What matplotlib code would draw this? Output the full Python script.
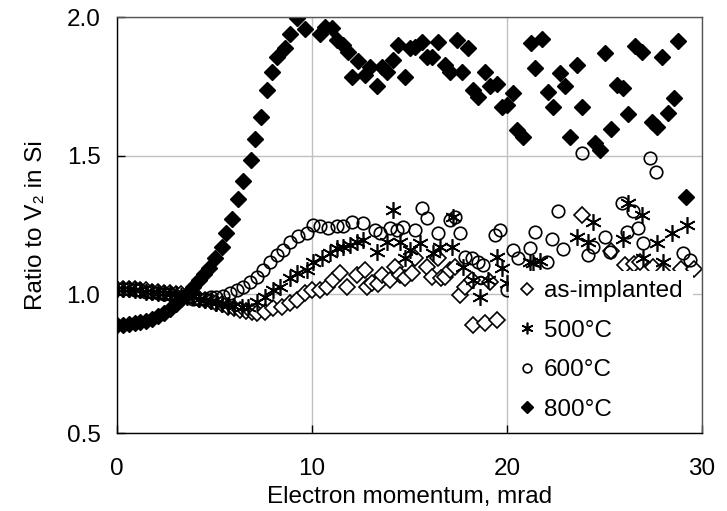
import matplotlib
matplotlib.use("Agg")
import matplotlib.pyplot as plt

plt.rcParams['font.family'] = ['Liberation Sans', 'DejaVu Sans']

x_label = "Electron momentum, mrad"
y_label = "Ratio to V\u2082 in Si"
series_names = ["as-implanted", "500\u00b0C", "600\u00b0C", "800\u00b0C"]
x_ticks = [0, 10, 20, 30]
y_ticks = [0.5, 1.0, 1.5, 2.0]

x_asimp = [0.0, 0.3, 0.6, 0.9, 1.2, 1.5, 1.8, 2.1, 2.4, 2.7, 3.0, 3.3, 3.6, 3.9, 4.2, 4.5, 4.8, 5.1, 5.4,
           5.7, 6.0, 6.3, 6.6, 6.9, 7.2, 7.6, 8.0, 8.45, 8.87, 9.21, 9.64, 9.98, 10.41, 10.75, 11.1, 11.44,
           11.78, 12.29, 12.72, 12.8, 13.06, 13.4, 13.57, 14.0, 14.25, 14.51, 14.77, 15.11, 15.28, 15.88,
           16.14, 16.48, 16.6, 16.82, 17.08, 17.33, 17.59, 17.85, 18.19, 18.27, 18.87, 19.13, 19.47, 21.09,
           23.83, 25.33, 26.05, 26.5, 26.82, 27.5, 28.0, 28.9, 29.6]
y_asimp = [1.02, 1.02, 1.02, 1.02, 1.015, 1.015, 1.01, 1.01, 1.005, 1.005, 1.0, 1.0, 0.995, 0.99, 0.985,
           0.98, 0.975, 0.97, 0.965, 0.955, 0.95, 0.945, 0.94, 0.935, 0.932, 0.938, 0.95, 0.956, 0.968, 0.98,
           1.004, 1.016, 1.016, 1.028, 1.052, 1.076, 1.028, 1.07, 1.088, 1.028, 1.04, 1.036, 1.07, 1.05, 1.10,
           1.07, 1.058, 1.076, 1.13, 1.10, 1.064, 1.13, 1.058, 1.064, 1.088, 1.10, 0.998, 1.028, 1.052, 0.89,
           0.896, 1.046, 0.908, 1.016, 1.287, 1.158, 1.106, 1.11, 1.118, 1.10, 1.08, 1.09, 1.09]

x_500 = [0.0, 0.3, 0.6, 0.9, 1.2, 1.5, 1.8, 2.1, 2.4, 2.7, 3.0, 3.3, 3.6, 3.9, 4.2, 4.5, 4.8, 5.1, 5.4,
         5.7, 6.0, 6.4, 6.73, 7.16, 7.59, 8.02, 8.36, 8.87, 9.21, 9.73, 10.07, 10.5, 10.92, 11.27, 11.6,
         11.95, 12.3, 12.63, 13.32, 13.83, 14.17, 14.5, 14.77, 15.03, 15.54, 16.22, 16.56, 17.16, 17.25,
         17.76, 18.27, 18.62, 19.04, 19.47, 19.73, 19.98, 21.18, 21.35, 21.7, 23.57, 24.17, 24.43, 25.96,
         26.22, 26.9, 27.0, 27.68, 28.0, 28.45, 29.21]
y_500 = [1.02, 1.02, 1.02, 1.015, 1.015, 1.01, 1.01, 1.005, 1.005, 1.0, 1.0, 0.995, 0.99, 0.99, 0.985,
         0.98, 0.975, 0.97, 0.965, 0.96, 0.958, 0.955, 0.956, 0.974, 0.992, 1.016, 1.028, 1.058, 1.076,
         1.088, 1.118, 1.13, 1.148, 1.166, 1.17, 1.178, 1.19, 1.196, 1.154, 1.19, 1.305, 1.19, 1.13, 1.16,
         1.184, 1.148, 1.172, 1.172, 1.28, 1.10, 1.052, 0.99, 1.052, 1.136, 1.094, 1.04, 1.118, 1.112, 1.12,
         1.208, 1.19, 1.262, 1.20, 1.33, 1.287, 1.13, 1.184, 1.118, 1.22, 1.25]

x_600 = [0.0, 0.3, 0.6, 0.9, 1.2, 1.5, 1.8, 2.1, 2.4, 2.7, 3.0, 3.3, 3.6, 3.9, 4.2, 4.5, 4.8, 5.1, 5.45,
         5.8, 6.14, 6.48, 6.82, 7.16, 7.5, 7.85, 8.19, 8.53, 8.87, 9.3, 9.73, 10.07, 10.4, 10.84, 11.27,
         11.6, 12.03, 12.63, 13.23, 13.49, 14.0, 14.34, 14.68, 15.28, 15.62, 15.88, 16.48, 17.08, 17.33,
         17.59, 17.85, 18.19, 18.53, 18.79, 19.38, 19.64, 19.98, 20.32, 20.58, 21.18, 21.44, 22.04, 22.29,
         22.63, 22.89, 23.83, 24.17, 24.43, 25.03, 25.28, 25.88, 26.14, 26.48, 26.73, 27.0, 27.33, 27.64,
         29.04, 29.38]
y_600 = [1.02, 1.02, 1.02, 1.015, 1.015, 1.01, 1.01, 1.005, 1.0, 1.0, 0.995, 0.99, 0.99, 0.985, 0.985,
         0.985, 0.99, 0.99, 0.995, 1.005, 1.016, 1.028, 1.046, 1.064, 1.088, 1.118, 1.142, 1.16, 1.19, 1.21,
         1.22, 1.25, 1.245, 1.238, 1.245, 1.245, 1.262, 1.256, 1.232, 1.22, 1.238, 1.232, 1.244, 1.232, 1.31,
         1.275, 1.22, 1.268, 1.28, 1.22, 1.136, 1.13, 1.118, 1.106, 1.214, 1.232, 1.016, 1.16, 1.13, 1.166,
         1.226, 1.118, 1.20, 1.30, 1.163, 1.509, 1.142, 1.172, 1.208, 1.154, 1.33, 1.226, 1.30, 1.238, 1.184,
         1.49, 1.44, 1.148, 1.124]

x_800 = [0.0, 0.3, 0.6, 0.9, 1.2, 1.5, 1.8, 2.1, 2.4, 2.7, 3.0, 3.3, 3.6, 3.9, 4.2, 4.45, 4.72, 5.03, 5.38,
         5.59, 5.9, 6.2, 6.46, 6.86, 7.08, 7.38, 7.69, 7.95, 8.19, 8.62, 8.87, 9.22, 9.65, 10.41, 10.67,
         11.01, 11.27, 11.6, 11.86, 12.03, 12.38, 12.72, 12.97, 13.32, 13.57, 13.83, 14.17, 14.43, 14.77,
         15.03, 15.28, 15.62, 15.88, 16.14, 16.45, 16.82, 17.08, 17.42, 17.68, 18.02, 18.27, 18.53, 18.87,
         19.13, 19.47, 19.73, 19.98, 20.32, 20.5, 20.8, 21.23, 21.44, 21.78, 22.12, 22.38, 22.72, 22.97,
         23.23, 23.57, 23.83, 24.51, 24.77, 25.03, 25.32, 25.62, 25.96, 26.22, 26.56, 26.91, 27.42, 27.68,
         27.93, 28.27, 28.56, 28.78, 29.18]
y_800 = [0.89, 0.89, 0.892, 0.895, 0.90, 0.905, 0.912, 0.922, 0.933, 0.948, 0.965, 0.982, 1.0, 1.025, 1.05,
         1.075, 1.095, 1.13, 1.17, 1.22, 1.27, 1.344, 1.41, 1.485, 1.56, 1.64, 1.737, 1.80, 1.856, 1.89,
         1.94, 1.995, 1.958, 1.94, 1.965, 1.96, 1.917, 1.90, 1.875, 1.785, 1.84, 1.79, 1.82, 1.75, 1.82,
         1.80, 1.845, 1.90, 1.785, 1.887, 1.893, 1.91, 1.857, 1.857, 1.91, 1.827, 1.80, 1.917, 1.80, 1.887,
         1.737, 1.71, 1.80, 1.75, 1.76, 1.677, 1.683, 1.725, 1.593, 1.569, 1.905, 1.815, 1.92, 1.73, 1.677,
         1.797, 1.75, 1.569, 1.827, 1.677, 1.545, 1.52, 1.87, 1.595, 1.755, 1.743, 1.65, 1.895, 1.875, 1.623,
         1.605, 1.857, 1.653, 1.707, 1.913, 1.352]

FS = 17.5

fig = plt.figure(figsize=(7.27, 5.11), dpi=100)
ax = fig.add_axes([0.161, 0.1526, 0.8046, 0.8141])

ax.plot(x_asimp, y_asimp, linestyle='none', marker='D', markersize=8.5, markerfacecolor='white',
        markeredgecolor='black', markeredgewidth=1.2, label=series_names[0])
ax.plot(x_500, y_500, linestyle='none', marker=(6, 2, 0), markersize=12, color='black',
        markeredgewidth=1.2, label=series_names[1])
ax.plot(x_600, y_600, linestyle='none', marker='o', markersize=9, markerfacecolor='none',
        markeredgecolor='black', markeredgewidth=1.2, label=series_names[2])
ax.plot(x_800, y_800, linestyle='none', marker='D', markersize=8.5, color='black',
        label=series_names[3])

ax.set_xlim(0, 30)
ax.set_ylim(0.5, 2.0)
ax.set_xticks(x_ticks)
ax.set_yticks(y_ticks)
ax.set_xticklabels([str(v) for v in x_ticks])
ax.set_yticklabels([f"{v:.1f}" for v in y_ticks])
ax.tick_params(direction='in', length=6, width=1, labelsize=FS, colors='black')
ax.tick_params(axis='x', pad=18)
ax.tick_params(axis='y', pad=12)
ax.grid(True, color='#c0c0c0', linewidth=1)
ax.set_axisbelow(True)
for s in ['left', 'bottom']:
    ax.spines[s].set_color('black')
    ax.spines[s].set_linewidth(1)
for s in ['top', 'right']:
    ax.spines[s].set_color('#555555')
    ax.spines[s].set_linewidth(1)

ax.set_xlabel(x_label, fontsize=FS, labelpad=4)
ax.set_ylabel(y_label, fontsize=FS, labelpad=14)

leg = ax.legend(loc='lower right', bbox_to_anchor=(0.988, 0.0), frameon=True, fancybox=False,
                edgecolor='white', facecolor='white', framealpha=1, fontsize=FS, markerscale=0.7,
                handlelength=0.7, handletextpad=0.35, labelspacing=0.72, borderaxespad=0.1,
                borderpad=0.4)
leg.get_frame().set_linewidth(0)

fig.savefig("out.png", dpi=100)
